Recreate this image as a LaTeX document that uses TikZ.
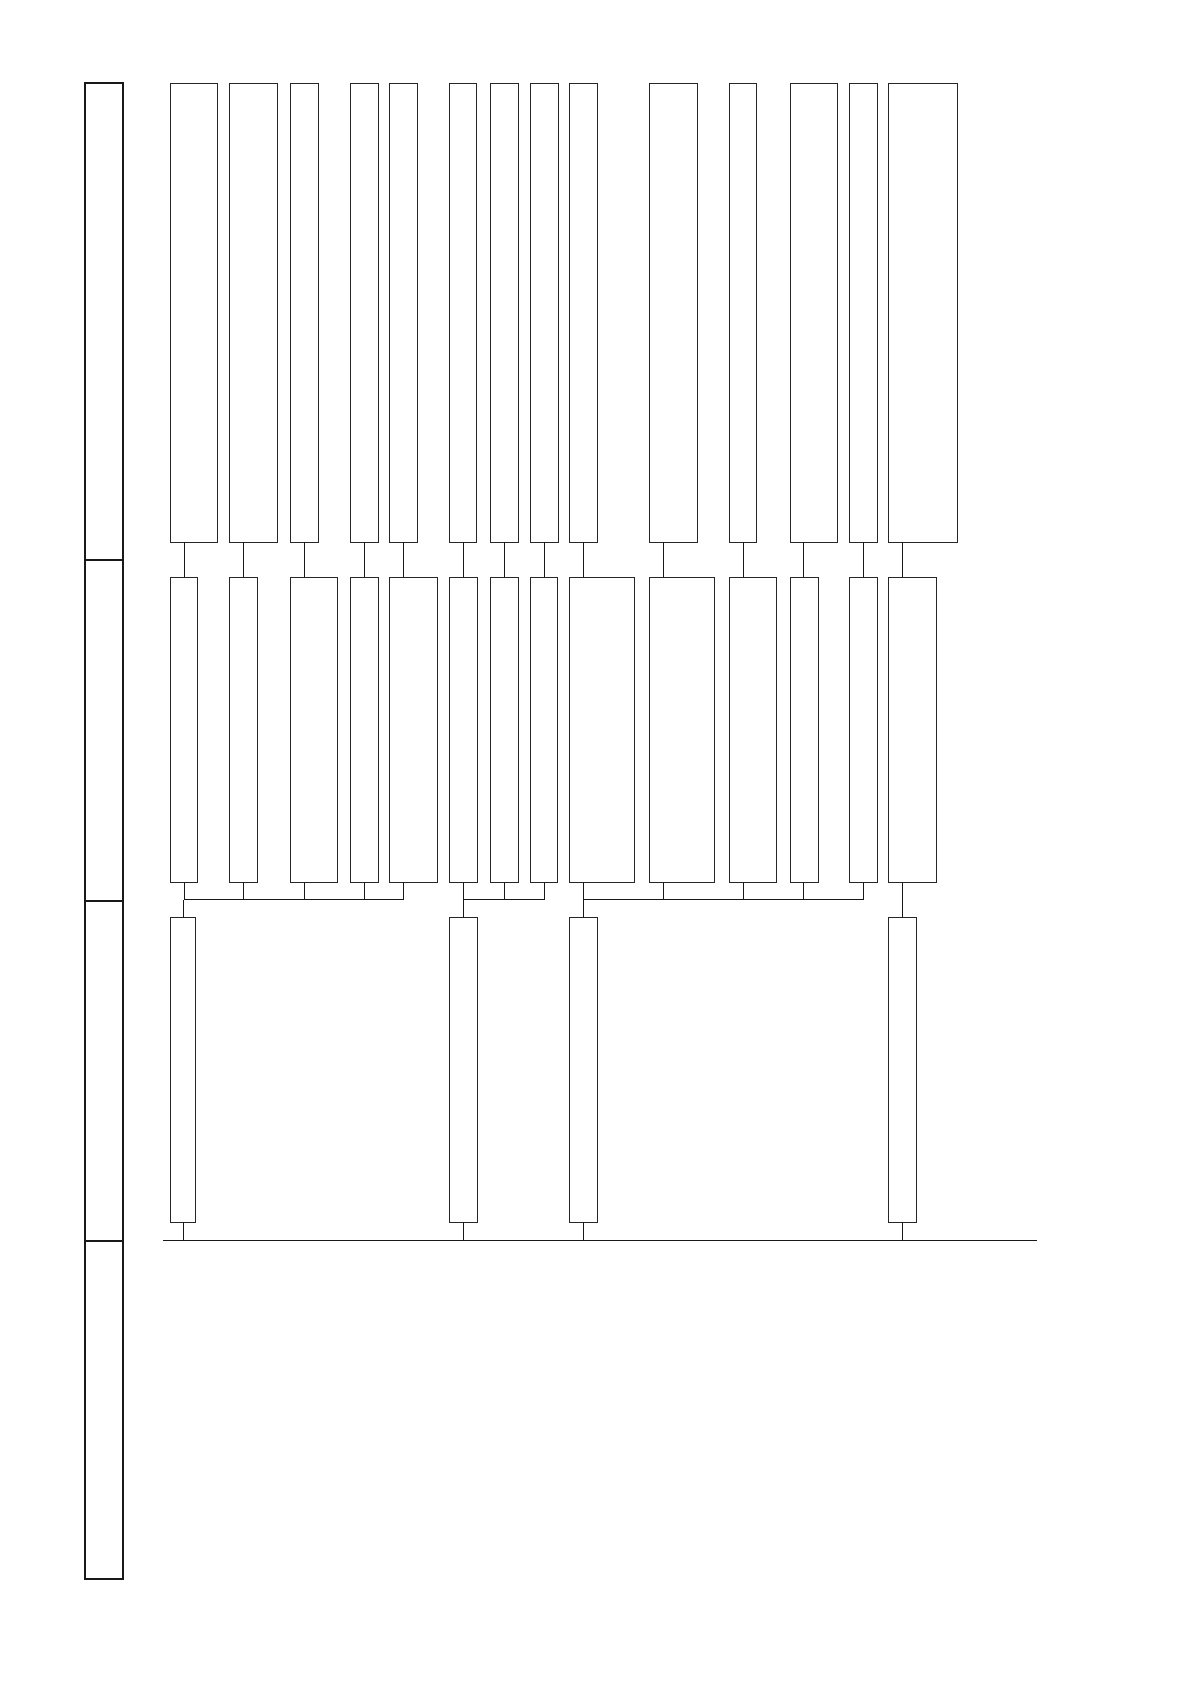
\documentclass[tikz,border=0pt]{standalone}
\begin{document}
\begin{tikzpicture}[x=1pt,y=-1pt,
  box/.style={draw=black!85,line width=0.8pt,inner sep=0pt,outer sep=0pt,anchor=north west},
  lane/.style={draw=black!90,line width=2pt,inner sep=0pt,outer sep=0pt,anchor=north west,minimum width=38pt},
  wire/.style={draw=black!90,line width=0.8pt}]
\useasboundingbox (0,0) rectangle (1190,1682);
% left band
\node[lane,minimum height=476.7pt] (l1) at (85.3,83.3) {};
\node[lane,minimum height=340.5pt] (l2) at (85.3,560) {};
\node[lane,minimum height=340pt] (l3) at (85.3,900.5) {};
\node[lane,minimum height=338.5pt] (l4) at (85.3,1240.5) {};
% top row
\foreach \i/\x/\w in {1/170.7/46.6,2/229.7/48,3/290.3/27.7,4/350.3/27.7,5/389.7/27.6,6/449.3/27.4,7/490.3/28,8/530.3/27.7,9/569.7/28,10/649.3/47.7,11/729.3/27.4,12/790/47.3,13/849.3/28,14/888.7/68.6}
  \node[box,minimum width=\w pt,minimum height=458.7pt] (t\i) at (\x,83.3) {};
% middle row
\foreach \i/\x/\w in {1/170.7/27,2/229.7/27.6,3/290.3/47.4,4/350.3/28,5/389.7/47.3,6/449.3/27.7,7/490.3/28,8/530.3/27.4,9/569.7/64.6,10/649.3/64.7,11/729.3/46.7,12/790/28.3,13/849.3/28,14/888.7/47.6}
  \node[box,minimum width=\w pt,minimum height=305pt] (m\i) at (\x,577) {};
% bottom row
\node[box,minimum width=25pt,minimum height=304.3pt] (b1) at (170.7,917.7) {};
\node[box,minimum width=28pt,minimum height=304.3pt] (b6) at (449.3,917.7) {};
\node[box,minimum width=28pt,minimum height=304.3pt] (b9) at (569.7,917.7) {};
\node[box,minimum width=28pt,minimum height=304.3pt] (b14) at (888.7,917.7) {};
% top to middle connectors
\foreach \i in {1,...,14}
  \draw[wire] ([xshift=13.6pt]t\i.south west) -- ([xshift=13.6pt]m\i.north west);
% middle to bottom buses
\foreach \i in {1,...,5}
  \draw[wire] ([xshift=13.6pt]m\i.south west) |- ([xshift=13pt,yshift=18.2pt]b1.north west);
\draw[wire] ([xshift=13pt,yshift=18.2pt]b1.north west) -- ([xshift=13pt]b1.north west);
\foreach \i in {6,7,8}
  \draw[wire] ([xshift=13.6pt]m\i.south west) |- ([xshift=14pt,yshift=18.2pt]b6.north west);
\draw[wire] ([xshift=14pt,yshift=18.2pt]b6.north west) -- ([xshift=14pt]b6.north west);
\foreach \i in {9,...,13}
  \draw[wire] ([xshift=13.6pt]m\i.south west) |- ([xshift=14pt,yshift=18.2pt]b9.north west);
\draw[wire] ([xshift=14pt,yshift=18.2pt]b9.north west) -- ([xshift=14pt]b9.north west);
\draw[wire] ([xshift=14pt]m14.south west) -- ([xshift=14pt]b14.north west);
% bottom line
\coordinate (bl) at (163,1240);
\coordinate (br) at (1036.7,1240);
\draw[wire] (bl) -- (br);
\foreach \n/\o in {b1/13,b6/14,b9/14,b14/14}
  \draw[wire] ([xshift=\o pt]\n.south west) -- ([xshift=\o pt]\n.south west |- bl);
\end{tikzpicture}
\end{document}
